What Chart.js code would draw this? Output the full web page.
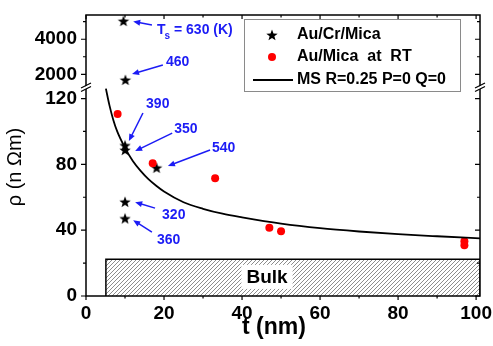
<!DOCTYPE html>
<html>
<head>
<meta charset="utf-8">
<script src="https://cdn.jsdelivr.net/npm/chart.js@4.4.1/dist/chart.umd.min.js"></script>
<style>
html,body{margin:0;padding:0;background:#fff;}
</style>
</head>
<body>
<canvas id="myChart" width="493" height="346"></canvas>
<script>
// Au/Cr/Mica (stars), upper part of the broken axis
var starTopT = [9.6, 10.1];
var starTopRho = [5040, 1680];
// Au/Cr/Mica (stars), lower part
var starT = [10, 10, 18.1, 10, 10];
var starRho = [91.5, 88.7, 77.9, 57.2, 47.1];
// Au/Mica at RT (red dots)
var dotT = [8.1, 17.1, 33.1, 47, 50, 97, 97];
var dotRho = [110.6, 80.6, 71.5, 41.4, 39.4, 33.3, 30.9];
// MS fit, R=0.25 P=0 Q=0
var msT = [5.1, 6, 7, 8, 10, 12, 14, 16, 18, 20, 25, 30, 35, 40, 50, 60, 70, 80, 90, 101];
var msRho = [126, 116, 107, 100, 90, 82, 76, 71, 67, 63.5, 57, 53, 50, 47.8, 44, 41.2, 39.2, 37.6, 36.3, 35];
// bulk value band
var bulkT = [5.1, 101];
var bulkRho = 22.3;

var xTicks = [0, 20, 40, 60, 80, 100];
var xMinor = [10, 30, 50, 70, 90];
var yTicks = [0, 40, 80, 120];
var yMinor = [20, 60, 100];
var yTopTicks = [2000, 4000];
var yTopMinor = [3000, 5000];

// substrate temperature labels
var notes = [
  {txt: '460', ax: 'yTop', at: [20.5, 2697], from: [19.7, 2526], to: [11.8, 2011]},
  {txt: '390', ax: 'y', at: [15.4, 116.7], from: [14.6, 111.2], to: [11.0, 94.2]},
  {txt: '350', ax: 'y', at: [22.6, 101.5], from: [22.1, 99], to: [12.6, 88.1]},
  {txt: '540', ax: 'y', at: [32.3, 89.9], from: [31.8, 88.7], to: [21.0, 79]},
  {txt: '320', ax: 'y', at: [19.5, 49.1], from: [17.7, 53.4], to: [12.6, 57]},
  {txt: '360', ax: 'y', at: [18.2, 33.9], from: [16.9, 38.8], to: [12.1, 46.1]}
];
var tsNote = {ax: 'yTop', at: [18.2, 4526], from: [16.9, 4811], to: [12.1, 5011]};

var FONT = '"Liberation Sans", Arial, sans-serif';
var BLUE = 'rgb(28,28,245)';

function pts(xs, ys) {
  return xs.map(function (x, i) { return {x: x, y: ys[i]}; });
}

function makeStar(r) {
  var c = document.createElement('canvas');
  var s = Math.ceil(r * 2 + 2);
  c.width = s; c.height = s;
  var g = c.getContext('2d');
  g.fillStyle = '#000';
  g.beginPath();
  for (var i = 0; i < 10; i++) {
    var a = -Math.PI / 2 + i * Math.PI / 5;
    var rr = i % 2 == 0 ? r : r * 0.42;
    g.lineTo(s / 2 + rr * Math.cos(a), s / 2 + 0.5 + rr * Math.sin(a));
  }
  g.closePath();
  g.fill();
  return c;
}

function makeHatch(g0) {
  var c = document.createElement('canvas');
  c.width = 4; c.height = 4;
  var g = c.getContext('2d');
  g.strokeStyle = '#707070';
  g.lineWidth = 0.8;
  g.beginPath();
  g.moveTo(0, 4); g.lineTo(4, 0);
  g.moveTo(-1, 1); g.lineTo(1, -1);
  g.moveTo(3, 5); g.lineTo(5, 3);
  g.stroke();
  return g0.createPattern(c, 'repeat');
}

function arrow(c, x1, y1, x2, y2) {
  var ang = Math.atan2(y2 - y1, x2 - x1);
  var hl = 7, hw = 3;
  c.beginPath();
  c.moveTo(x1, y1);
  c.lineTo(x2 - Math.cos(ang) * hl * 0.8, y2 - Math.sin(ang) * hl * 0.8);
  c.stroke();
  c.beginPath();
  c.moveTo(x2, y2);
  c.lineTo(x2 - Math.cos(ang) * hl - Math.sin(ang) * hw, y2 - Math.sin(ang) * hl + Math.cos(ang) * hw);
  c.lineTo(x2 - Math.cos(ang) * hl + Math.sin(ang) * hw, y2 - Math.sin(ang) * hl - Math.cos(ang) * hw);
  c.closePath();
  c.fill();
}

var ctx = document.getElementById('myChart').getContext('2d');
var starImg = makeStar(6);
var hatch = makeHatch(ctx);

var decor = {
  id: 'decor',
  afterDraw: function (chart) {
    var c = chart.ctx, a = chart.chartArea;
    var sx = chart.scales.x, sy = chart.scales.y, st = chart.scales.yTop;
    c.save();

    // bulk label
    var bx = sx.getPixelForValue(46.4), by = sy.getPixelForValue(11.6);
    c.font = 'bold 19px ' + FONT;
    var w = c.measureText('Bulk').width;
    c.fillStyle = '#fff';
    c.fillRect(bx - w / 2 - 5, by - 12, w + 10, 24);
    c.fillStyle = '#000';
    c.textAlign = 'center';
    c.textBaseline = 'middle';
    c.fillText('Bulk', bx, by + 1);

    // frame
    c.strokeStyle = '#000';
    c.lineWidth = 1.5;
    c.strokeRect(a.left, a.top, a.right - a.left, a.bottom - a.top);

    // tick marks
    c.lineWidth = 1.2;
    c.beginPath();
    xTicks.forEach(function (v) {
      var p = sx.getPixelForValue(v);
      c.moveTo(p, a.bottom); c.lineTo(p, a.bottom + 4);
      c.moveTo(p, a.top); c.lineTo(p, a.top + 4);
    });
    xMinor.forEach(function (v) {
      var p = sx.getPixelForValue(v);
      c.moveTo(p, a.bottom); c.lineTo(p, a.bottom + 2.5);
      c.moveTo(p, a.top); c.lineTo(p, a.top + 2.5);
    });
    function yt(scale, vals, len) {
      vals.forEach(function (v) {
        var p = scale.getPixelForValue(v);
        c.moveTo(a.left - len, p); c.lineTo(a.left, p);
        c.moveTo(a.right - len, p); c.lineTo(a.right, p);
      });
    }
    yt(sy, yTicks, 5); yt(sy, yMinor, 3);
    yt(st, yTopTicks, 5); yt(st, yTopMinor, 3);
    c.stroke();

    // axis breaks
    var yb = st.bottom;
    [a.left, a.right].forEach(function (xb) {
      c.fillStyle = '#fff';
      c.beginPath();
      c.moveTo(xb - 5, yb + 1); c.lineTo(xb + 5, yb - 4);
      c.lineTo(xb + 5, yb - 1); c.lineTo(xb - 5, yb + 4);
      c.closePath(); c.fill();
      c.beginPath();
      c.lineWidth = 1.2;
      c.moveTo(xb - 5, yb + 0.5); c.lineTo(xb + 5, yb - 4.5);
      c.moveTo(xb - 5, yb + 4); c.lineTo(xb + 5, yb - 1);
      c.stroke();
    });

    // axis titles
    c.fillStyle = '#000';
    c.font = 'bold 23px ' + FONT;
    c.textAlign = 'center';
    c.textBaseline = 'middle';
    c.fillText('t (nm)', 274, 328);
    c.save();
    c.translate(15, 167);
    c.rotate(-Math.PI / 2);
    c.font = '20px ' + FONT;
    c.fillText('\u03c1 (n \u03a9m)', 0, 0);
    c.restore();

    // temperature annotations
    c.fillStyle = BLUE;
    c.strokeStyle = BLUE;
    c.lineWidth = 1.5;
    c.font = 'bold 14px ' + FONT;
    c.textAlign = 'left';
    notes.forEach(function (n) {
      var sc = chart.scales[n.ax];
      c.fillText(n.txt, sx.getPixelForValue(n.at[0]), sc.getPixelForValue(n.at[1]));
      arrow(c, sx.getPixelForValue(n.from[0]), sc.getPixelForValue(n.from[1]),
        sx.getPixelForValue(n.to[0]), sc.getPixelForValue(n.to[1]));
    });
    var tx = sx.getPixelForValue(tsNote.at[0]), ty = st.getPixelForValue(tsNote.at[1]);
    c.fillText('T', tx, ty);
    var tw = c.measureText('T').width;
    c.font = 'bold 10px ' + FONT;
    c.fillText('s', tx + tw - 1, ty + 6);
    var sw = c.measureText('s').width;
    c.font = 'bold 14px ' + FONT;
    c.fillText(' = 630 (K)', tx + tw - 1 + sw, ty);
    arrow(c, sx.getPixelForValue(tsNote.from[0]), st.getPixelForValue(tsNote.from[1]),
      sx.getPixelForValue(tsNote.to[0]), st.getPixelForValue(tsNote.to[1]));

    // legend
    c.fillStyle = '#fff';
    c.fillRect(244, 19, 216, 72);
    c.strokeStyle = '#8a8a8a';
    c.lineWidth = 1;
    c.strokeRect(244.5, 19.5, 216, 72);
    c.drawImage(starImg, 272 - starImg.width / 2, 35 - starImg.height / 2);
    c.fillStyle = '#f00';
    c.beginPath(); c.arc(272, 57, 4, 0, Math.PI * 2); c.fill();
    c.strokeStyle = '#000';
    c.lineWidth = 1.8;
    c.beginPath(); c.moveTo(253, 80); c.lineTo(293, 80); c.stroke();
    c.fillStyle = '#000';
    c.font = 'bold 16px ' + FONT;
    c.textBaseline = 'middle';
    c.fillText('Au/Cr/Mica', 297, 35);
    c.fillText('Au/Mica  at  RT', 297, 57);
    c.fillText('MS R=0.25 P=0 Q=0', 297, 80);

    c.restore();
  }
};

var tickFont = {family: FONT, size: 19, weight: 'bold'};
function plain(v) { return String(v); }
function noPad(s) { s.paddingLeft = 0; s.paddingRight = 0; s.paddingTop = 0; s.paddingBottom = 0; }

var myChart = new Chart(ctx, {
  type: 'scatter',
  data: {
    datasets: [{
      type: 'line',
      data: [{x: bulkT[0], y: 0}, {x: bulkT[0], y: bulkRho}, {x: bulkT[1], y: bulkRho}, {x: bulkT[1], y: 0}],
      fill: 'origin',
      backgroundColor: hatch,
      borderColor: '#000',
      borderWidth: 1.5,
      pointRadius: 0,
      tension: 0,
      yAxisID: 'y'
    }, {
      type: 'line',
      data: pts(msT, msRho),
      borderColor: '#000',
      borderWidth: 1.8,
      pointRadius: 0,
      cubicInterpolationMode: 'monotone',
      fill: false,
      yAxisID: 'y'
    }, {
      data: pts(dotT, dotRho),
      pointStyle: 'circle',
      pointRadius: 4,
      backgroundColor: '#f00',
      borderColor: '#f00',
      borderWidth: 0,
      yAxisID: 'y'
    }, {
      data: pts(starT, starRho),
      pointStyle: starImg,
      yAxisID: 'y'
    }, {
      data: pts(starTopT, starTopRho),
      pointStyle: starImg,
      yAxisID: 'yTop'
    }]
  },
  options: {
    responsive: false,
    animation: false,
    layout: {padding: {top: 15, right: 13, left: 0, bottom: 0}},
    plugins: {legend: {display: false}, tooltip: {enabled: false}},
    scales: {
      x: {
        type: 'linear', min: 0, max: 101,
        grid: {display: false, drawTicks: false},
        border: {display: false},
        afterBuildTicks: function (s) { s.ticks = xTicks.map(function (v) { return {value: v}; }); },
        afterFit: function (s) { s.height = 50; noPad(s); },
        ticks: {font: tickFont, color: '#000', padding: 6, maxRotation: 0, callback: plain}
      },
      y: {
        type: 'linear', position: 'left', stack: 'rho', stackWeight: 208.5,
        min: 0, max: 126.7,
        grid: {display: false, drawTicks: false},
        border: {display: false},
        afterBuildTicks: function (s) { s.ticks = yTicks.map(function (v) { return {value: v}; }); },
        afterFit: function (s) { s.width = 86; noPad(s); },
        ticks: {font: tickFont, color: '#000', padding: 9, callback: plain}
      },
      yTop: {
        type: 'linear', position: 'left', stack: 'rho', stackWeight: 72.5,
        min: 1246, max: 5383,
        grid: {display: false, drawTicks: false},
        border: {display: false},
        afterBuildTicks: function (s) { s.ticks = yTopTicks.map(function (v) { return {value: v}; }); },
        afterFit: function (s) { s.width = 86; noPad(s); },
        ticks: {font: tickFont, color: '#000', padding: 9, callback: plain}
      }
    }
  },
  plugins: [decor]
});
</script>
</body>
</html>
